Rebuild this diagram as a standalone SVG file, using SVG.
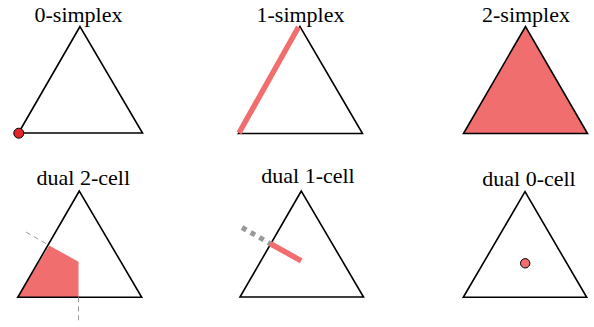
<svg xmlns="http://www.w3.org/2000/svg" width="594" height="327" viewBox="0 0 594 327">
<style>
text{font-family:'Liberation Serif','Times New Roman','DejaVu Serif',serif;font-size:22px;fill:#000;text-anchor:middle}
.tri{fill:none;stroke:#000;stroke-width:1.6;stroke-linejoin:miter}
.fill{fill:#f06e6e}
.thick{stroke:#f06e6e;stroke-width:5.5;fill:none}
.dash{stroke:#999;stroke-width:1;stroke-dasharray:5,4;fill:none}
.dashthick{stroke:#999;stroke-width:5;stroke-dasharray:5,5;fill:none}
</style>
<rect width="594" height="327" fill="#fff"/>
<g id="simplex0">
<text x="78.5" y="22" font-family="Liberation Serif, serif">0-simplex</text>
<polygon class="tri" points="80,26.5 18.5,133 142.5,133"/>
<circle cx="18.8" cy="133.2" r="5" fill="#e3262a" stroke="#000" stroke-width="1"/>
</g>
<g id="simplex1">
<text x="300.5" y="22" font-family="Liberation Serif, serif">1-simplex</text>
<polygon class="tri" points="300,26.5 238.5,133.5 362.5,133.5"/>
<line class="thick" x1="298.5" y1="27" x2="239" y2="133"/>
</g>
<g id="simplex2">
<text x="526" y="22" font-family="Liberation Serif, serif">2-simplex</text>
<polygon class="tri fill" points="525.5,26.5 463.5,133.5 587.5,133.5"/>
</g>
<g id="dual2cell">
<text x="83.3" y="185" font-family="Liberation Serif, serif">dual 2-cell</text>
<polygon class="fill" points="17.8,297.3 49.2,245.5 78.5,261.7 78.5,297.3"/>
<polygon class="tri" points="79.3,191 17.8,297.3 141.7,297.3"/>
</g>
<g id="dual1cell">
<text x="308" y="182.5" font-family="Liberation Serif, serif">dual 1-cell</text>
<polygon class="tri" points="301.3,191 240,297 363.5,297"/>
<line class="thick" x1="270" y1="243.5" x2="301.2" y2="260.8"/>
</g>
<g id="dual0cell">
<text x="529" y="186" font-family="Liberation Serif, serif">dual 0-cell</text>
<polygon class="tri" points="525,191.7 463.3,297.3 586.7,297.3"/>
<circle cx="525.2" cy="263.3" r="4.7" fill="#f06e6e" stroke="#000" stroke-width="1"/>
</g>
<g id="connectors">
<line class="dash" x1="26" y1="232" x2="49.2" y2="245.5"/>
<line class="dash" x1="78.5" y1="297.3" x2="78.5" y2="321"/>
<line class="dashthick" x1="242" y1="227.5" x2="270" y2="243.5"/>
</g>
</svg>
